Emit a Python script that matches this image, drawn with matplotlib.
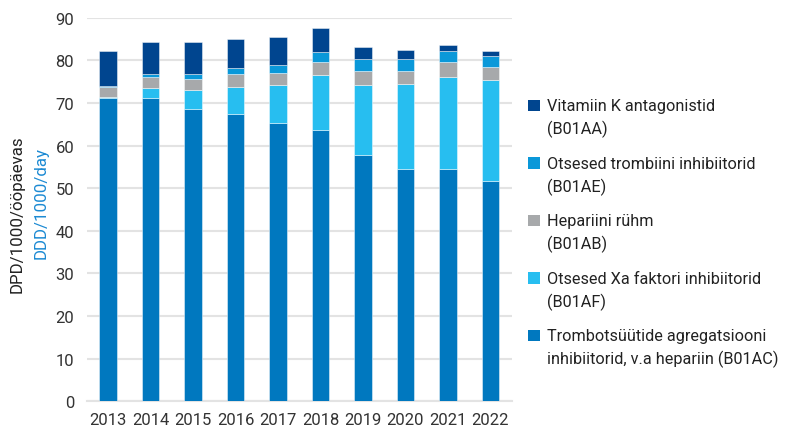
import matplotlib
matplotlib.use("Agg")
import matplotlib.pyplot as plt
from matplotlib.patches import Rectangle
import numpy as np

years = ["2013", "2014", "2015", "2016", "2017", "2018", "2019", "2020", "2021", "2022"]
# stacked from bottom to top
b01ac = [71.1, 71.2, 68.5, 67.3, 65.4, 63.6, 57.7, 54.5, 54.4, 51.8]
b01af = [0.4, 2.3, 4.5, 6.5, 8.8, 12.9, 16.4, 19.9, 21.6, 23.5]
b01ab = [2.2, 2.5, 2.7, 2.9, 2.9, 3.1, 3.3, 3.2, 3.5, 3.2]
b01ae = [0.3, 0.7, 1.0, 1.4, 1.9, 2.4, 2.8, 2.8, 2.6, 2.6]
b01aa = [8.1, 7.7, 7.6, 7.0, 6.4, 5.5, 3.0, 2.1, 1.5, 1.2]

series_names = [
    "Trombotsüütide agregatsiooni\ninhibiitorid, v.a hepariin (B01AC)",
    "Otsesed Xa faktori inhibiitorid\n(B01AF)",
    "Hepariini rühm\n(B01AB)",
    "Otsesed trombiini inhibiitorid\n(B01AE)",
    "Vitamiin K antagonistid\n(B01AA)",
]
series_values = [b01ac, b01af, b01ab, b01ae, b01aa]
colors = ["#0078BF", "#27BEF0", "#A7A9AB", "#0A98D9", "#00458F"]

yticks = [0, 10, 20, 30, 40, 50, 60, 70, 80, 90]
ylabel_et = "DPD/1000/ööpäevas"
ylabel_en = "DDD/1000/day"

FONT = ["Roboto", "DejaVu Sans"]
plt.rcParams["font.family"] = FONT

W, H = 785, 427
fig = plt.figure(figsize=(W / 100, H / 100), dpi=100)
ax = fig.add_axes([86.7 / W, 1 - 402.3 / H, (511.7 - 86.7) / W, (402.3 - 18.7) / H])

x = np.arange(len(years))
bottom = np.zeros(len(years))
for vals, col in zip(series_values, colors):
    v = np.array(vals)
    ax.bar(x, v, bottom=bottom, width=0.41, color=col,
           edgecolor=(1, 1, 1, 0.45), linewidth=0.7, zorder=3)
    bottom += v

ax.set_xlim(-0.5, len(years) - 0.5)
ax.set_ylim(0, 90)
ax.set_yticks(yticks)
ax.set_xticks(x)
ax.set_xticklabels(years)
ax.yaxis.grid(True, color="#E3E3E3", linewidth=1.5, zorder=0)
ax.set_axisbelow(True)
for s in ["top", "right", "left"]:
    ax.spines[s].set_visible(False)
ax.spines["bottom"].set_color("#E3E3E3")
ax.spines["bottom"].set_linewidth(1.5)
ax.tick_params(axis="both", length=0, labelsize=12, colors="#333333")
ax.tick_params(axis="y", pad=9)
ax.tick_params(axis="x", pad=8)

# y-axis label (two lines, two colours)
fig.text(17 / W, 1 - 214 / H, ylabel_et, rotation=90, ha="center", va="center",
         fontsize=12.2, color="#222222")
fig.text(41 / W, 1 - 203 / H, ylabel_en, rotation=90, ha="center", va="center",
         fontsize=12.2, color="#1C8AD3")

# legend (reverse of stack order), marker aligned to first line
for i, idx in enumerate(range(len(series_names) - 1, -1, -1)):
    center = 105 + 57.5 * i
    lines = series_names[idx].split("\n")
    for j, line in enumerate(lines):
        base = center + 6.5 + 23 * j
        fig.text(546.7 / W, 1 - base / H, line, ha="left", va="baseline",
                 fontsize=11.7, color="#222222")
    sz = 11.5
    fig.add_artist(Rectangle((528.3 / W, 1 - (center + 1.5 + sz / 2) / H), sz / W, sz / H,
                             transform=fig.transFigure, facecolor=colors[idx],
                             edgecolor="none"))

fig.savefig("out.png", dpi=100)
